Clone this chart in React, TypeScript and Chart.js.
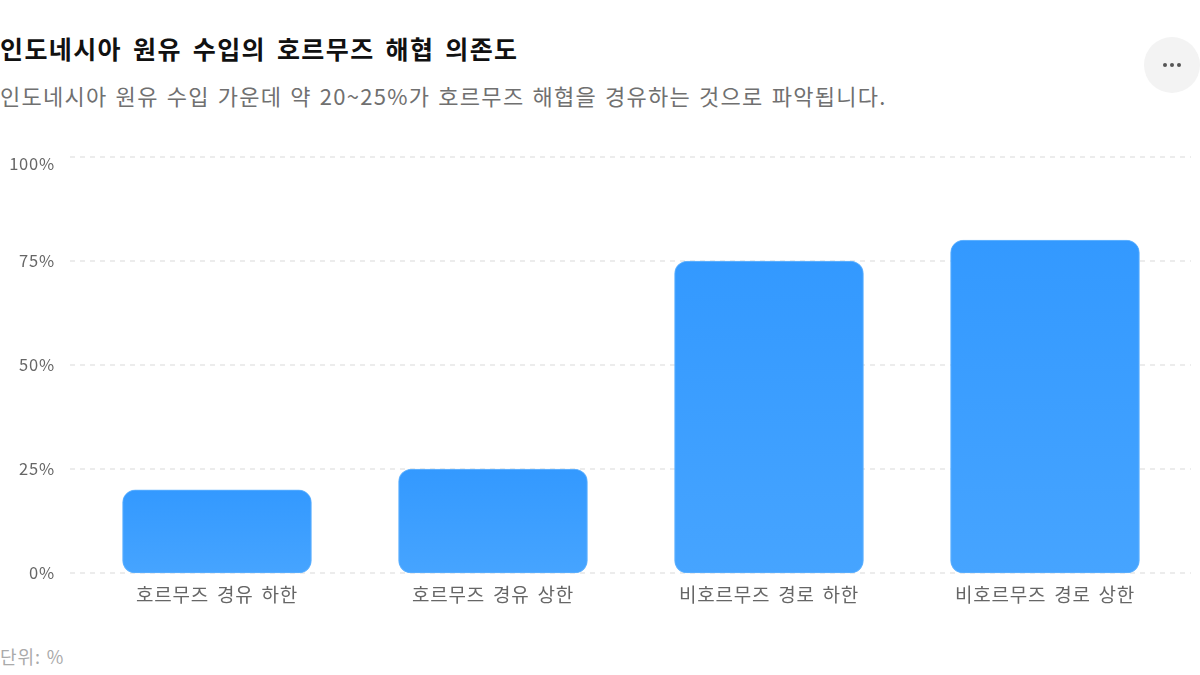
import React, { useEffect, useRef } from "react";
import { Chart, registerables } from "chart.js";

Chart.register(...registerables);

const categories = ["호르무즈 경유 하한", "호르무즈 경유 상한", "비호르무즈 경로 하한", "비호르무즈 경로 상한"];
const shareValues = [20, 25, 75, 80];
const yTicks = [0, 25, 50, 75, 100];
const titleText = "인도네시아 원유 수입의 호르무즈 해협 의존도";
const subtitleText = "인도네시아 원유 수입 가운데 약 20~25%가 호르무즈 해협을 경유하는 것으로 파악됩니다.";
const unitText = "단위: %";
const FONT = '"Noto Sans CJK KR", "Noto Sans", sans-serif';

const extendedGrid = {
  id: "extendedGrid",
  beforeDraw(chart: any) {
    chart.ctx.letterSpacing = "0.8px";
    chart.ctx.wordSpacing = "2.8px";
  },
  beforeDatasetsDraw(chart: any) {
    const { ctx, scales } = chart;
    ctx.save();
    ctx.strokeStyle = "#e6e6e6";
    ctx.lineWidth = 1.5;
    ctx.setLineDash([5, 5]);
    scales.y.ticks.forEach((t: any) => {
      const y = Math.round(scales.y.getPixelForValue(t.value));
      ctx.beginPath();
      ctx.moveTo(70, y);
      ctx.lineTo(1191, y);
      ctx.stroke();
    });
    ctx.restore();
  },
};

export default function App() {
  const ref = useRef<HTMLCanvasElement>(null);
  useEffect(() => {
    document.body.style.margin = "0";
    const chart = new Chart(ref.current!, {
      type: "bar",
      plugins: [extendedGrid],
      data: {
        labels: categories,
        datasets: [
          {
            data: shareValues,
            barThickness: 189,
            borderRadius: 13,
            borderSkipped: false,
            borderWidth: 1,
            borderColor: "rgba(90,175,255,0.9)",
            backgroundColor: (c: any) => {
              const { chart: ch, parsed } = c;
              if (!ch.chartArea || !parsed) return "#3399ff";
              const y0 = ch.scales.y.getPixelForValue(parsed.y);
              const y1 = ch.scales.y.getPixelForValue(0);
              const g = ch.ctx.createLinearGradient(0, y0, 0, y1);
              g.addColorStop(0, "#3399ff");
              g.addColorStop(1, "#46a4ff");
              return g;
            },
          },
        ],
      },
      options: {
        animation: false,
        responsive: false,
        layout: { padding: { left: 0, right: 17, top: 0, bottom: 0 } },
        plugins: { legend: { display: false }, tooltip: { enabled: false } },
        scales: {
          x: {
            grid: { display: false },
            border: { display: false },
            ticks: { color: "#666666", font: { family: FONT, size: 19 }, padding: 2, maxRotation: 0 },
          },
          y: {
            min: 0,
            max: 100,
            afterFit: (s: any) => {
              s.width = 79;
            },
            afterBuildTicks: (s: any) => {
              s.ticks = yTicks.map((value) => ({ value }));
            },
            afterUpdate: (s: any) => {
              if (s.__shifted) return;
              s.__shifted = true;
              const orig = s._computeLabelItems.bind(s);
              s._computeLabelItems = (area: any) => {
                const items = orig(area);
                items.forEach((it: any) => {
                  if (it.label === "100%") {
                    const [tx, ty] = it.options.translation;
                    it.options.translation = [tx, ty + 7];
                  }
                });
                return items;
              };
            },
            grid: { display: false },
            border: { display: false },
            ticks: {
              color: "#666666",
              font: { family: FONT, size: 16.5 },
              padding: 16,
              callback: (v: any) => `${v}%`,
            },
          },
        },
      },
    });
    return () => chart.destroy();
  }, []);

  return (
    <div style={{ position: "relative", width: 1200, height: 675, overflow: "hidden", background: "#fff", fontFamily: FONT }}>
      <div style={{ position: "absolute", left: 0, top: 30, fontSize: 25, lineHeight: "36px", fontWeight: 700, color: "#111", whiteSpace: "nowrap", letterSpacing: 1.4, wordSpacing: 3.9 }}>{titleText}</div>
      <div style={{ position: "absolute", left: 0, top: 78, fontSize: 22, lineHeight: "34px", color: "#707070", whiteSpace: "nowrap", letterSpacing: 1.28, wordSpacing: 1.8 }}>{subtitleText}</div>
      <div style={{ position: "absolute", left: 1144, top: 37, width: 56, height: 56, borderRadius: 28, background: "#f3f3f3", display: "flex", alignItems: "center", justifyContent: "center", gap: 3 }}>
        {[0, 1, 2].map((i) => (
          <span key={i} style={{ width: 4, height: 4, borderRadius: 2, background: "#555" }} />
        ))}
      </div>
      <canvas ref={ref} width={1200} height={477} style={{ position: "absolute", left: 0, top: 131, display: "block" }} />
      <div style={{ position: "absolute", left: 0, top: 643, fontSize: 18, lineHeight: "26px", color: "#aaa", whiteSpace: "nowrap", letterSpacing: 0.9, wordSpacing: 1 }}>{unitText}</div>
    </div>
  );
}
